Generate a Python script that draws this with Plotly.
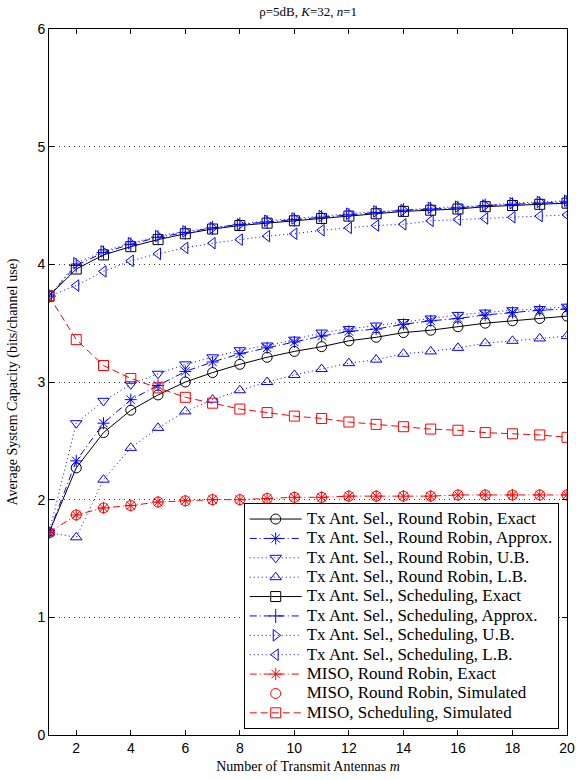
import plotly.graph_objects as go

m = list(range(1, 21))

rr_exact = [1.72, 2.27, 2.57, 2.76, 2.89, 3.00, 3.08, 3.15, 3.21, 3.26,
            3.30, 3.35, 3.38, 3.42, 3.44, 3.47, 3.50, 3.52, 3.54, 3.56]
rr_approx = [1.72, 2.33, 2.65, 2.85, 2.97, 3.09, 3.17, 3.24, 3.29, 3.34,
             3.39, 3.43, 3.45, 3.49, 3.52, 3.54, 3.57, 3.59, 3.61, 3.62]
rr_ub = [1.72, 2.65, 2.84, 2.98, 3.07, 3.15, 3.21, 3.27, 3.31, 3.36,
         3.42, 3.45, 3.48, 3.51, 3.54, 3.57, 3.59, 3.61, 3.62, 3.64]
rr_lb = [1.72, 1.68, 2.17, 2.44, 2.61, 2.75, 2.85, 2.93, 3.00, 3.06,
         3.11, 3.16, 3.19, 3.24, 3.26, 3.29, 3.33, 3.35, 3.37, 3.39]
sch_exact = [3.73, 3.96, 4.08, 4.15, 4.21, 4.26, 4.30, 4.33, 4.35, 4.37,
             4.39, 4.41, 4.43, 4.45, 4.46, 4.47, 4.49, 4.50, 4.51, 4.52]
sch_approx = [3.73, 3.99, 4.10, 4.17, 4.23, 4.27, 4.31, 4.34, 4.36, 4.38,
              4.40, 4.42, 4.44, 4.46, 4.47, 4.48, 4.50, 4.51, 4.52, 4.53]
sch_ub = [3.73, 4.01, 4.11, 4.18, 4.24, 4.28, 4.31, 4.34, 4.37, 4.39,
          4.41, 4.43, 4.45, 4.46, 4.48, 4.49, 4.50, 4.52, 4.53, 4.54]
sch_lb = [3.73, 3.82, 3.94, 4.03, 4.09, 4.14, 4.18, 4.21, 4.24, 4.26,
          4.29, 4.31, 4.33, 4.34, 4.37, 4.38, 4.39, 4.40, 4.41, 4.42]
miso_rr = [1.72, 1.87, 1.93, 1.95, 1.98, 1.99, 2.00, 2.00, 2.01, 2.02,
           2.02, 2.03, 2.03, 2.03, 2.03, 2.04, 2.04, 2.04, 2.04, 2.04]
miso_sch = [3.73, 3.36, 3.14, 3.03, 2.95, 2.87, 2.82, 2.77, 2.74, 2.71,
            2.69, 2.66, 2.64, 2.62, 2.60, 2.59, 2.57, 2.56, 2.55, 2.53]

names = [
    "Tx Ant. Sel., Round Robin, Exact",
    "Tx Ant. Sel., Round Robin, Approx.",
    "Tx Ant. Sel., Round Robin, U.B.",
    "Tx Ant. Sel., Round Robin, L.B.",
    "Tx Ant. Sel., Scheduling, Exact",
    "Tx Ant. Sel., Scheduling, Approx.",
    "Tx Ant. Sel., Scheduling, U.B.",
    "Tx Ant. Sel., Scheduling, L.B.",
    "MISO, Round Robin, Exact",
    "MISO, Round Robin, Simulated",
    "MISO, Scheduling, Simulated",
]

BLUE = "#0000ff"
RED = "#ff0000"
BLACK = "#000000"
DOT = "1px,3px"
DASHDOT = "7px,3px,1px,3px"
DASH = "7px,4px"

series = [
    (rr_exact, BLACK, "solid", "circle-open", "lines+markers"),
    (rr_approx, BLUE, DASHDOT, "asterisk-open", "lines+markers"),
    (rr_ub, BLUE, DOT, "triangle-down-open", "lines+markers"),
    (rr_lb, BLUE, DOT, "triangle-up-open", "lines+markers"),
    (sch_exact, BLACK, "solid", "square-open", "lines+markers"),
    (sch_approx, BLUE, DASHDOT, "cross-thin-open", "lines+markers"),
    (sch_ub, BLUE, DOT, "triangle-right-open", "lines+markers"),
    (sch_lb, BLUE, DOT, "triangle-left-open", "lines+markers"),
    (miso_rr, RED, DASHDOT, "asterisk-open", "lines+markers"),
    (miso_rr, RED, "solid", "circle-open", "markers"),
    (miso_sch, RED, DASH, "square-open", "lines+markers"),
]

fig = go.Figure()
for (vals, col, dash, sym, mode), name in zip(series, names):
    fig.add_trace(go.Scatter(
        x=m, y=vals, mode=mode,
        name="<span style='font-size:17px'>" + name + "</span>",
        line=dict(color=col, width=1, dash=dash),
        marker=dict(symbol=sym, size=10, color=col,
                    line=dict(color=col, width=1)),
    ))

fig.update_layout(
    width=576, height=780,
    margin=dict(l=49, r=9, t=29, b=45),
    paper_bgcolor="white", plot_bgcolor="white",
    title=dict(text="ρ=5dB, <i>K</i>=32, <i>n</i>=1",
               x=0.535, xanchor="center", y=0.985, yanchor="middle",
               font=dict(family="Liberation Serif", size=13, color="black")),
    showlegend=True,
    legend=dict(x=0.984, y=0.008, xanchor="right", yanchor="bottom",
                bgcolor="white", bordercolor="black", borderwidth=1,
                font=dict(family="Liberation Serif", size=12.6, color="black"),
                tracegroupgap=0, itemwidth=52),
)

fig.update_xaxes(
    range=[1, 20], tickvals=list(range(2, 21, 2)), automargin=False,
    showline=True, linecolor="black", linewidth=1, mirror="ticks",
    ticks="inside", ticklen=5, tickcolor="black", showgrid=False, zeroline=False,
    tickfont=dict(family="Liberation Sans", size=14, color="black"),
    title=dict(text="Number of Transmit Antennas <i>m</i>", standoff=6,
               font=dict(family="Liberation Serif", size=14, color="black")),
)
fig.update_yaxes(
    range=[0, 6], tickvals=list(range(0, 7)), automargin=False,
    showline=True, linecolor="black", linewidth=1, mirror="ticks",
    ticks="inside", ticklen=5, tickcolor="black",
    showgrid=True, gridcolor="#333333", gridwidth=1, griddash="1px,4px",
    zeroline=False,
    tickfont=dict(family="Liberation Sans", size=14, color="black"),
    title=dict(text="Average System Capacity (bits/channel use)", standoff=16,
               font=dict(family="Liberation Serif", size=14, color="black")),
)

fig.write_html(
    "out.html",
    config={"displayModeBar": False},
    post_script="document.body.style.margin='0';document.body.style.overflow='hidden';",
)
